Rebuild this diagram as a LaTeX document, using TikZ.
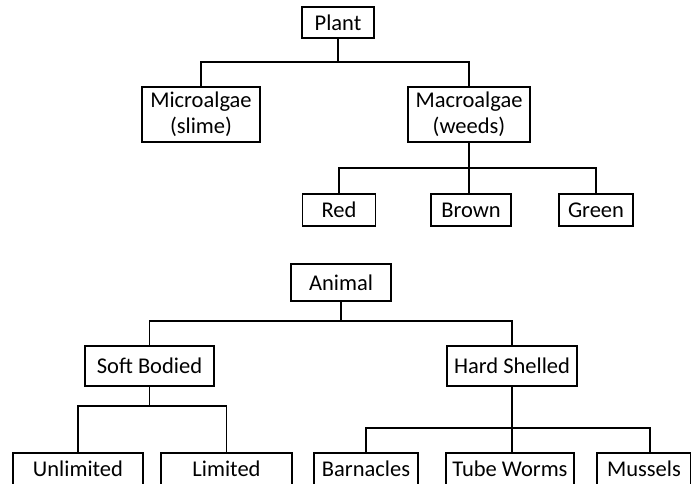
\documentclass[tikz,border=0pt]{standalone}
\usepackage{fontspec}
\setmainfont{Carlito}
\tikzset{
	box/.style={draw, line width=1.8pt, align=center, inner sep=0pt, font=\fontsize{22.5}{26}\selectfont},
	openbox/.style={box, draw=none},
	link/.style={line width=1.8pt}
}
\begin{document}
\begin{tikzpicture}[x=1pt, y=-1pt]

	%page frame, bottom row runs off the edge
	\useasboundingbox (0,0) rectangle (691,483);
	\fill[white] (0,0) rectangle (691,483);

	%plant tree
	\node[box, minimum width=72pt, minimum height=31pt] (plant) at (338,22.5) {Plant};
	\node[box, minimum width=118pt, minimum height=55pt] (micro) at (201,114.5) {Microalgae\\(slime)};
	\node[box, minimum width=122pt, minimum height=55pt] (macro) at (469,114.5) {Macroalgae\\(weeds)};
	\node[box, minimum width=73pt, minimum height=32pt] (red) at (339,210) {Red};
	\node[box, minimum width=80pt, minimum height=32pt] (brown) at (471,210) {Brown};
	\node[box, minimum width=74pt, minimum height=32pt] (green) at (596,210) {Green};

	\coordinate (plantbus) at (338,62);
	\coordinate (macrobus) at (469,168);
	\draw[link] (plant.south) -- (plantbus);
	\draw[link] (micro.north) |- (plantbus) -| (macro.north);
	\draw[link] (macro.south) -- (macro.south |- brown.north);
	\draw[link] (red.north) |- (macrobus) -| (green.north);

	%animal tree
	\node[box, minimum width=100pt, minimum height=37pt] (animal) at (341,282.5) {Animal};
	\node[box, minimum width=129pt, minimum height=40pt] (soft) at (149.5,366) {Soft Bodied};
	\node[box, minimum width=130pt, minimum height=40pt] (hard) at (512,366) {Hard Shelled};

	%bottom row, cut by the lower edge
	\node[openbox, minimum width=128pt, minimum height=30pt] (unlim) at (78,469) {Unlimited};
	\node[openbox, minimum width=129pt, minimum height=30pt] (limited) at (226.5,469) {Limited};
	\node[openbox, minimum width=102pt, minimum height=30pt] (barn) at (366,469) {Barnacles};
	\node[openbox, minimum width=126pt, minimum height=30pt] (tube) at (510,469) {Tube Worms};
	\node[openbox, minimum width=92pt, minimum height=30pt] (mussels) at (644,469) {Mussels};
	\foreach \n in {unlim,limited,barn,tube,mussels}
		\draw[link] (\n.south west) -- (\n.north west) -- (\n.north east) -- (\n.south east);

	\coordinate (animalbus) at (341,321);
	\coordinate (softbus) at (149.5,406);
	\coordinate (hardbus) at (512,428);
	\draw[link] (animal.south) -- (animalbus);
	\draw[link] (soft.north) |- (animalbus) -| (hard.north);
	\draw[link] (soft.south) -- (softbus);
	\draw[link] (unlim.north) |- (softbus) -| (limited.north);
	\draw[link] (hard.south) -- (hard.south |- tube.north);
	\draw[link] (barn.north) |- (hardbus) -| ([xshift=6pt]mussels.north);
\end{tikzpicture}
\end{document}
